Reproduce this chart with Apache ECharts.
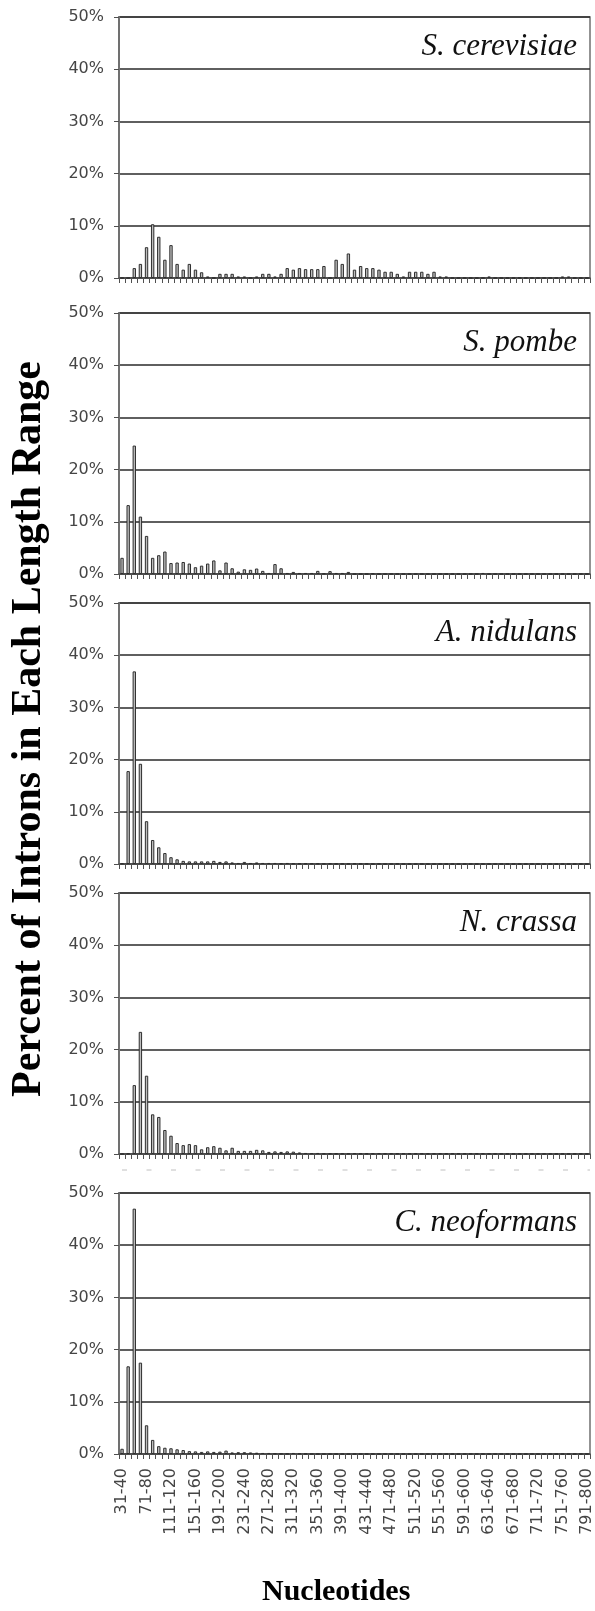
<!DOCTYPE html>
<html>
<head>
<meta charset="utf-8">
<script src="https://cdn.jsdelivr.net/npm/echarts@6/dist/echarts.min.js"></script>
<style>
html,body{margin:0;padding:0;background:#fff;}
#chart{width:595px;height:1611px;}
</style>
</head>
<body>
<div id="chart"></div>
<script>
const categories = ["31-40","41-50","51-60","61-70","71-80","81-90","91-100","101-110","111-120","121-130","131-140","141-150","151-160","161-170","171-180","181-190","191-200","201-210","211-220","221-230","231-240","241-250","251-260","261-270","271-280","281-290","291-300","301-310","311-320","321-330","331-340","341-350","351-360","361-370","371-380","381-390","391-400","401-410","411-420","421-430","431-440","441-450","451-460","461-470","471-480","481-490","491-500","501-510","511-520","521-530","531-540","541-550","551-560","561-570","571-580","581-590","591-600","601-610","611-620","621-630","631-640","641-650","651-660","661-670","671-680","681-690","691-700","701-710","711-720","721-730","731-740","741-750","751-760","761-770","771-780","781-790","791-800"];

const species = ["S. cerevisiae","S. pombe","A. nidulans","N. crassa","C. neoformans"];

const cerevisiae = [0,0,1.9,2.7,5.9,10.3,7.9,3.5,6.3,2.7,1.6,2.7,1.6,1.1,0.3,0,0.8,0.8,0.8,0.3,0.3,0,0.3,0.8,0.8,0.3,0.8,1.9,1.6,1.9,1.7,1.7,1.7,2.3,0,3.5,2.7,4.7,1.6,2.3,1.9,1.9,1.6,1.2,1.2,0.8,0.3,1.2,1.2,1.2,0.8,1.2,0.3,0.3,0,0,0,0,0,0,0.3,0,0,0,0,0,0,0,0,0,0,0,0.3,0.3,0,0,0];

const pombe = [3.1,13.2,24.6,11.0,7.3,3.1,3.6,4.3,2.1,2.2,2.3,2.0,1.3,1.6,2.0,2.6,0.7,2.2,1.1,0.45,0.9,0.8,1.05,0.6,0.2,1.9,1.1,0.2,0.4,0.2,0.2,0.2,0.6,0.1,0.55,0.2,0.2,0.4,0,0,0,0.1,0,0,0,0,0,0,0,0,0,0,0,0,0,0,0,0,0,0.2,0,0,0,0,0,0,0,0,0,0,0,0,0,0,0,0,0];

const nidulans = [0.1,17.8,36.9,19.2,8.2,4.6,3.2,2.1,1.3,0.9,0.6,0.5,0.5,0.5,0.5,0.6,0.4,0.5,0.3,0.2,0.4,0.2,0.3,0.2,0.2,0.2,0.1,0.2,0.1,0.1,0.1,0.1,0.1,0.05,0.1,0.05,0.05,0.05,0.1,0.05,0.05,0,0.05,0,0,0.05,0,0,0,0,0,0,0,0,0,0,0,0,0,0,0,0,0,0,0,0,0,0,0,0,0,0,0,0,0,0,0];

const crassa = [0,0.1,13.2,23.4,15.0,7.6,7.1,4.6,3.5,2.1,1.7,1.9,1.7,0.9,1.3,1.5,1.2,0.7,1.2,0.6,0.6,0.6,0.8,0.7,0.4,0.5,0.4,0.5,0.45,0.3,0.2,0.15,0.2,0.1,0.1,0.1,0.1,0.1,0.15,0.1,0.1,0.1,0.15,0.1,0.1,0.1,0.1,0.1,0.1,0.1,0.1,0.1,0.1,0.1,0.1,0.1,0.1,0.1,0.1,0.1,0.1,0.05,0.05,0.05,0.05,0.05,0.05,0.05,0.05,0.05,0.05,0.05,0.05,0.05,0.05,0.05,0.05];

const neoformans = [1.0,16.8,47.0,17.5,5.5,2.7,1.5,1.2,1.1,0.9,0.75,0.55,0.5,0.4,0.5,0.4,0.45,0.65,0.3,0.35,0.35,0.3,0.25,0.2,0.2,0.1,0.05,0.05,0.2,0.1,0.05,0,0,0,0,0,0,0,0,0,0,0,0,0,0,0,0,0,0,0,0,0,0,0,0,0,0,0,0,0,0,0,0,0,0,0,0,0,0,0,0,0,0,0,0,0,0];

const yTicks = [0,10,20,30,40,50];

const allSeries = [cerevisiae, pombe, nidulans, crassa, neoformans];
const tops = [17, 313, 603, 893, 1193];
const plotH = 261;
const plotLeft = 119;
const plotW = 471;

const chart = echarts.init(document.getElementById('chart'), null, {renderer:'canvas'});

const grids = [], xAxes = [], yAxes = [], series = [], graphics = [];
allSeries.forEach((vals, i) => {
  grids.push({left: plotLeft, top: tops[i], width: plotW, height: plotH, show: true, borderColor: '#707070', borderWidth: 1.5, containLabel: false});
  xAxes.push({
    type: 'category', gridIndex: i, data: categories, boundaryGap: true,
    axisLine: {show: true, lineStyle: {color: '#505050', width: 1.5}},
    axisTick: {show: true, interval: 0, length: 5, lineStyle: {color: '#505050', width: 1}},
    axisLabel: {show: i === 4, interval: 3, rotate: 90, margin: 14, fontFamily: 'DejaVu Sans', fontSize: 16, color: '#454545'},
    splitLine: {show: false}
  });
  yAxes.push({
    type: 'value', gridIndex: i, min: yTicks[0], max: yTicks[yTicks.length-1], interval: 10,
    axisLine: {show: true, lineStyle: {color: '#707070', width: 2}},
    axisTick: {show: true, length: 5, lineStyle: {color: '#505050', width: 1}},
    axisLabel: {formatter: '{value}%', margin: 15, fontFamily: 'DejaVu Sans', fontSize: 16, color: '#454545'},
    splitLine: {show: true, lineStyle: {color: '#2a2a2a', width: 1.5}}
  });
  series.push({
    type: 'bar', xAxisIndex: i, yAxisIndex: i, data: vals, barWidth: '55%',
    itemStyle: {color: '#bdbdbd', borderColor: '#2e2e2e', borderWidth: 1},
    silent: true, animation: false
  });
  graphics.push({
    type: 'text', right: 18, top: tops[i] + 14,
    style: {text: species[i], font: 'italic 31px "Liberation Serif"', fill: '#111', textAlign: 'right'}
  });
});

graphics.push({
  type: 'text', x: 29, y: 729, rotation: Math.PI/2,
  style: {text: 'Percent of Introns in Each Length Range', font: 'bold 42px "Liberation Serif"', fill: '#000', align: 'center', verticalAlign: 'middle', textAlign: 'center', textVerticalAlign: 'middle'}
});
graphics.push({
  type: 'text', left: 262, top: 1577,
  style: {text: 'Nucleotides', font: 'bold 30px "Liberation Serif"', fill: '#000'}
});
graphics.push({
  type: 'line', shape: {x1: 122, y1: 1170, x2: 590, y2: 1170},
  style: {stroke: '#c0c0c0', lineWidth: 1, lineDash: [5, 19.5]}
});

chart.setOption({
  animation: false,
  backgroundColor: '#fff',
  grid: grids, xAxis: xAxes, yAxis: yAxes, series: series,
  graphic: graphics
});
</script>
</body>
</html>
